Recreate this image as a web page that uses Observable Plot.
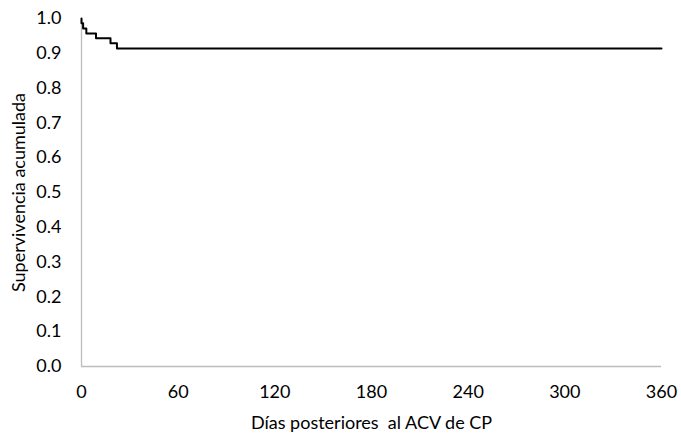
<!DOCTYPE html>
<html>
<head>
<meta charset="utf-8">
<script src="https://cdn.jsdelivr.net/npm/d3@7"></script>
<script src="https://cdn.jsdelivr.net/npm/@observablehq/plot@0.6"></script>
<style>
  html, body { margin: 0; padding: 0; background: #fff; }
  #chart svg { display: block; }
</style>
</head>
<body>
<div id="chart"></div>
<script>
// Kaplan-Meier survival steps
const days = [0, 0, 1, 3, 9, 18, 22, 360];
const survival = [1.0, 0.986, 0.971, 0.957, 0.943, 0.929, 0.914, 0.914];
const xTicks = [0, 60, 120, 180, 240, 300, 360];
const yTicks = [0, 0.1, 0.2, 0.3, 0.4, 0.5, 0.6, 0.7, 0.8, 0.9, 1.0];
const xLabel = "Días posteriores  al ACV de CP";
const yLabel = "Supervivencia acumulada";

const data = days.map((d, i) => ({day: d, s: survival[i]}));

const chart = Plot.plot({
  width: 681,
  height: 434,
  marginLeft: 81,
  marginRight: 20,
  marginTop: 18,
  marginBottom: 68,
  style: {fontFamily: "Lato, 'Open Sans', sans-serif", fontSize: "18px", color: "#000", background: "#fff"},
  x: {domain: [0, 360]},
  y: {domain: [0, 1]},
  marks: [
    Plot.ruleY([0], {stroke: "#bdbdbd", strokeWidth: 1.3}),
    Plot.ruleX([0], {stroke: "#bdbdbd", strokeWidth: 1.3}),
    Plot.axisX({ticks: xTicks, tickSize: 0, tickPadding: 19, label: xLabel, labelAnchor: "center", labelArrow: "none", labelOffset: 62, fontSize: 18}),
    Plot.axisY({ticks: yTicks, tickSize: 0, tickPadding: 20, tickFormat: d3.format(".1f"), label: yLabel, labelAnchor: "center", labelArrow: "none", labelOffset: 69, fontSize: 18}),
    Plot.line(data, {x: "day", y: "s", curve: "step-after", stroke: "#000", strokeWidth: 2})
  ]
});
document.getElementById("chart").appendChild(chart);
</script>
</body>
</html>
